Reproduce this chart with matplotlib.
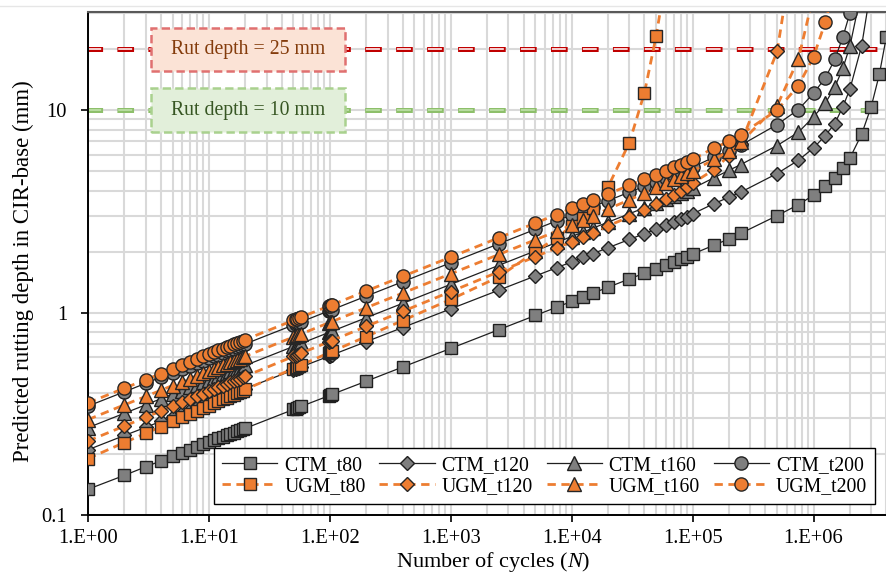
import matplotlib
matplotlib.use('Agg')
import numpy as np
import matplotlib.pyplot as plt
from matplotlib.patches import Rectangle
from matplotlib.lines import Line2D
from matplotlib.ticker import LogLocator, NullFormatter

nan = float('nan')

# ---------------- data ----------------
cycles = [1, 2, 3, 4, 5, 6, 7, 8, 9, 10, 11, 12, 13, 14, 15, 16, 17, 18, 19, 20,
          50, 52, 54, 56, 58,
          98, 100, 102, 104,
          200, 400, 1000,
          2500, 5000, 7500, 10000, 12500, 15000,
          20000, 30000, 40000, 50000, 60000, 70000, 80000, 90000, 100000,
          150000, 200000, 250000,
          500000, 750000, 1000000, 1250000, 1500000, 1750000, 2000000, 2500000, 3000000, 3500000, 4000000]

ctm_t80 = [0.134, 0.157, 0.173, 0.185, 0.195, 0.203, 0.210, 0.217, 0.223, 0.229, 0.234, 0.239, 0.243, 0.247, 0.251, 0.255, 0.259, 0.262, 0.265, 0.268,
           0.332, 0.335, 0.338, 0.341, 0.344,
           0.388, 0.390, 0.392, 0.394,
           0.458, 0.538, 0.665,
           0.823, 0.967, 1.062, 1.135, 1.196, 1.247,
           1.333, 1.465, 1.566, 1.649, 1.720, 1.783, 1.839, 1.890, 1.945,
           2.15, 2.31, 2.46,
           3.01, 3.41, 3.80, 4.20, 4.64, 5.20, 5.80, 7.60, 10.4, 15.0, 23.0]

ctm_t120 = [0.210, 0.247, 0.271, 0.290, 0.305, 0.318, 0.330, 0.340, 0.350, 0.358, 0.366, 0.374, 0.381, 0.387, 0.394, 0.400, 0.405, 0.411, 0.416, 0.421,
            0.520, 0.525, 0.530, 0.534, 0.539,
            0.608, 0.611, 0.614, 0.617,
            0.718, 0.843, 1.043,
            1.290, 1.515, 1.664, 1.779, 1.874, 1.955,
            2.090, 2.296, 2.454, 2.584, 2.696, 2.794, 2.882, 2.975, 3.07,
            3.45, 3.71, 3.93,
            4.86, 5.65, 6.50, 7.48, 8.58, 10.4, 12.7, 20.8, 41.0, nan, nan]

ctm_t160 = [0.270, 0.318, 0.350, 0.375, 0.395, 0.412, 0.427, 0.441, 0.453, 0.465, 0.475, 0.485, 0.495, 0.503, 0.512, 0.519, 0.527, 0.534, 0.541, 0.548,
            0.680, 0.686, 0.692, 0.698, 0.704,
            0.797, 0.800, 0.804, 0.808,
            0.943, 1.110, 1.378,
            1.711, 2.015, 2.218, 2.373, 2.502, 2.612,
            2.795, 3.076, 3.292, 3.470, 3.623, 3.757, 3.877, 3.987, 4.10,
            4.63, 5.04, 5.38,
            6.68, 7.77, 9.26, 10.8, 13.0, 16.1, 20.7, 39.0, nan, nan, nan]

ctm_t200 = [0.345, 0.406, 0.447, 0.479, 0.504, 0.527, 0.546, 0.564, 0.579, 0.594, 0.608, 0.620, 0.632, 0.643, 0.654, 0.664, 0.673, 0.682, 0.691, 0.700,
            0.868, 0.877, 0.884, 0.892, 0.900,
            1.018, 1.023, 1.028, 1.032,
            1.205, 1.419, 1.761,
            2.186, 2.575, 2.834, 3.033, 3.197, 3.337,
            3.571, 3.930, 4.206, 4.434, 4.629, 4.800, 4.954, 5.094, 5.222,
            5.85, 6.30, 6.70,
            8.48, 10.06, 12.1, 14.4, 17.8, 23.0, 30.2, 60.0, nan, nan, nan]

ugm_t80 = [0.190, 0.228, 0.253, 0.273, 0.290, 0.304, 0.316, 0.328, 0.338, 0.347, 0.356, 0.364, 0.372, 0.379, 0.386, 0.393, 0.399, 0.405, 0.411, 0.417,
           0.529, 0.535, 0.540, 0.546, 0.551,
           0.632, 0.635, 0.638, 0.642,
           0.761, 0.913, 1.161,
           1.50, 2.00, 2.34, 2.67, 2.94, 3.30,
           4.18, 6.90, 12.2, 23.3, 45.0, nan, nan, nan, nan,
           nan, nan, nan,
           nan, nan, nan, nan, nan, nan, nan, nan, nan, nan, nan]

ugm_t120 = [0.232, 0.275, 0.304, 0.326, 0.345, 0.361, 0.374, 0.387, 0.398, 0.409, 0.418, 0.428, 0.436, 0.444, 0.452, 0.459, 0.466, 0.472, 0.479, 0.485,
            0.607, 0.613, 0.619, 0.624, 0.630,
            0.717, 0.720, 0.724, 0.727,
            0.854, 1.013, 1.269,
            1.590, 1.886, 2.084, 2.236, 2.362, 2.471,
            2.68, 2.97, 3.22, 3.45, 3.64, 3.82, 3.98, 4.15, 4.35,
            5.08, 5.96, 6.83,
            19.5, 90.0, nan, nan, nan, nan, nan, nan, nan, nan, nan]

ugm_t160 = [0.296, 0.350, 0.385, 0.413, 0.436, 0.455, 0.472, 0.488, 0.502, 0.514, 0.526, 0.537, 0.548, 0.558, 0.567, 0.576, 0.584, 0.592, 0.600, 0.608,
            0.757, 0.764, 0.771, 0.778, 0.784,
            0.890, 0.894, 0.898, 0.902,
            1.056, 1.247, 1.554,
            1.936, 2.286, 2.519, 2.700, 2.848, 3.00,
            3.25, 3.60, 3.90, 4.15, 4.35, 4.55, 4.75, 4.90, 5.00,
            5.70, 6.26, 6.93,
            10.5, 17.9, 37.0, nan, nan, nan, nan, nan, nan, nan, nan]

ugm_t200 = [0.358, 0.423, 0.466, 0.499, 0.527, 0.550, 0.571, 0.590, 0.607, 0.622, 0.637, 0.650, 0.663, 0.674, 0.686, 0.696, 0.707, 0.716, 0.726, 0.735,
            0.915, 0.924, 0.933, 0.941, 0.949,
            1.076, 1.081, 1.086, 1.091,
            1.277, 1.508, 1.879,
            2.341, 2.765, 3.047, 3.265, 3.444, 3.599,
            3.856, 4.251, 4.554, 4.805, 5.020, 5.209, 5.379, 5.533, 5.70,
            6.50, 7.00, 7.57,
            10.0, 13.2, 18.3, 27.2, 42.0, nan, nan, nan, nan, nan, nan]

series_names = ['CTM_t80', 'CTM_t120', 'CTM_t160', 'CTM_t200',
                'UGM_t80', 'UGM_t120', 'UGM_t160', 'UGM_t200']
series_values = [ctm_t80, ctm_t120, ctm_t160, ctm_t200,
                 ugm_t80, ugm_t120, ugm_t160, ugm_t200]

rut_limits = [20, 10]
rut_labels = ['Rut depth = 25 mm', 'Rut depth = 10 mm']

x_ticks = [1, 10, 100, 1000, 1e4, 1e5, 1e6]
x_tick_labels = ['1.E+00', '1.E+01', '1.E+02', '1.E+03', '1.E+04', '1.E+05', '1.E+06']
y_ticks = [0.1, 1, 10]
y_tick_labels = ['0.1', '1', '10']

for n, v in zip(series_names, series_values):
    if len(v) != len(cycles):
        raise ValueError(f'{n}: {len(v)} vs {len(cycles)}')

# ---------------- style ----------------
plt.rcParams['font.family'] = ['Liberation Serif', 'DejaVu Serif']
plt.rcParams['mathtext.fontset'] = 'custom'
plt.rcParams['mathtext.rm'] = 'Liberation Serif'
plt.rcParams['mathtext.it'] = 'Liberation Serif:italic'
plt.rcParams['lines.scale_dashes'] = False

W, H = 887, 575
fig = plt.figure(figsize=(W / 100, H / 100), dpi=100)
ax = fig.add_axes([88 / W, (H - 515) / H, 799 / W, 503 / H])
ax.set_xscale('log')
ax.set_yscale('log')
ax.set_xlim(1, 4.05e6)
ax.set_ylim(0.1, 30.5)

ax.xaxis.set_minor_locator(LogLocator(base=10, subs=np.arange(2, 10), numticks=100))
ax.yaxis.set_minor_locator(LogLocator(base=10, subs=np.arange(2, 10), numticks=100))
ax.xaxis.set_minor_formatter(NullFormatter())
ax.yaxis.set_minor_formatter(NullFormatter())
ax.set_xticks(x_ticks, labels=x_tick_labels)
ax.set_yticks(y_ticks, labels=y_tick_labels)
ax.tick_params(which='minor', length=0)
ax.tick_params(axis='x', which='major', direction='out', length=5, width=1.2, labelsize=14.8, pad=5)
ax.tick_params(axis='y', which='major', direction='out', length=5, width=1.2, labelsize=14.8, pad=10)
ax.grid(which='both', color='#D9D9D9', lw=1.5)
ax.set_axisbelow(True)

for s in ['left', 'bottom']:
    ax.spines[s].set_color('black')
    ax.spines[s].set_linewidth(1.4)
ax.spines['top'].set_color('#595959')
ax.spines['top'].set_linewidth(1.5)
ax.spines['right'].set_visible(False)

# reference lines (outlined dashes)
ax.axhline(rut_limits[0], color='#C00000', lw=3.6, ls=(1.5, (12, 10.3)), zorder=1.5)
ax.axhline(rut_limits[0], color='#F6D2D2', lw=1.4, ls=(0.5, (10.0, 12.3)), zorder=1.6)
ax.axhline(rut_limits[1], color='#8DBF6A', lw=3.6, ls=(1.5, (12, 10.3)), zorder=1.5)
ax.axhline(rut_limits[1], color='#B9DCA2', lw=1.4, ls=(0.5, (10.0, 12.3)), zorder=1.6)

markers = ['s', 'D', '^', 'o']
msizes = [9.0, 7.6, 9.5, 9.5]
handles = {}
for i, (name, vals) in enumerate(zip(series_names, series_values)):
    k = i % 4
    if name.startswith('CTM'):
        h, = ax.plot(cycles, vals, color='#1F1F1F', lw=0.9, marker=markers[k], ms=msizes[k],
                     mfc='#7F7F7F', mec='#1F1F1F', mew=1.0, zorder=3 + i * 0.1, label=name)
    else:
        h, = ax.plot(cycles, vals, color='#ED7D31', lw=2.0, ls=(0, (6, 4)), marker=markers[k], ms=msizes[k],
                     mfc='#ED7D31', mec='#262626', mew=1.0, zorder=3 + i * 0.1, label=name)
    handles[name] = h

# annotation boxes
box_specs = [
    (0.8827, 0.0855, '#FBE3D6', '#E07070', '#843C0C', rut_labels[0]),
    (0.7614, 0.0875, '#E2EFDA', '#A9D18E', '#375623', rut_labels[1]),
]
for y0, hgt, fc, ec, tc, txt in box_specs:
    ax.add_patch(Rectangle((0.0789, y0), 0.2428, hgt, transform=ax.transAxes, fc=fc, ec=ec,
                           lw=1.8, ls=(0, (6, 3)), zorder=6, clip_on=False))
    ax.text(0.0789 + 0.2428 / 2, y0 + hgt / 2, txt, transform=ax.transAxes, ha='center', va='center',
            fontsize=14.2, color=tc, zorder=7)

order = ['CTM_t80', 'UGM_t80', 'CTM_t120', 'UGM_t120', 'CTM_t160', 'UGM_t160', 'CTM_t200', 'UGM_t200']
leg = ax.legend([handles[n] for n in order], order, ncol=4, loc='lower left',
                bbox_to_anchor=(0.158, 0.022), frameon=True, fancybox=False, edgecolor='black',
                framealpha=1, fontsize=14.2, handlelength=2.8, handletextpad=0.35, columnspacing=0.7,
                labelspacing=0.12, borderpad=0.4, borderaxespad=0)
leg.get_frame().set_linewidth(1.0)
leg.set_zorder(10)

ax.set_ylabel('Predicted rutting depth in CIR-base (mm)', fontsize=16.5)
ax.set_xlabel('Number of cycles ($\\mathit{N}$)', fontsize=16)
ax.yaxis.set_label_coords(-0.067, 0.485)
ax.xaxis.set_label_coords(0.507, -0.070)

fig.add_artist(Line2D([0, 1], [1 - 6 / H, 1 - 6 / H], transform=fig.transFigure, color='#E6E6E6', lw=1))

fig.savefig('out.png', dpi=100)
